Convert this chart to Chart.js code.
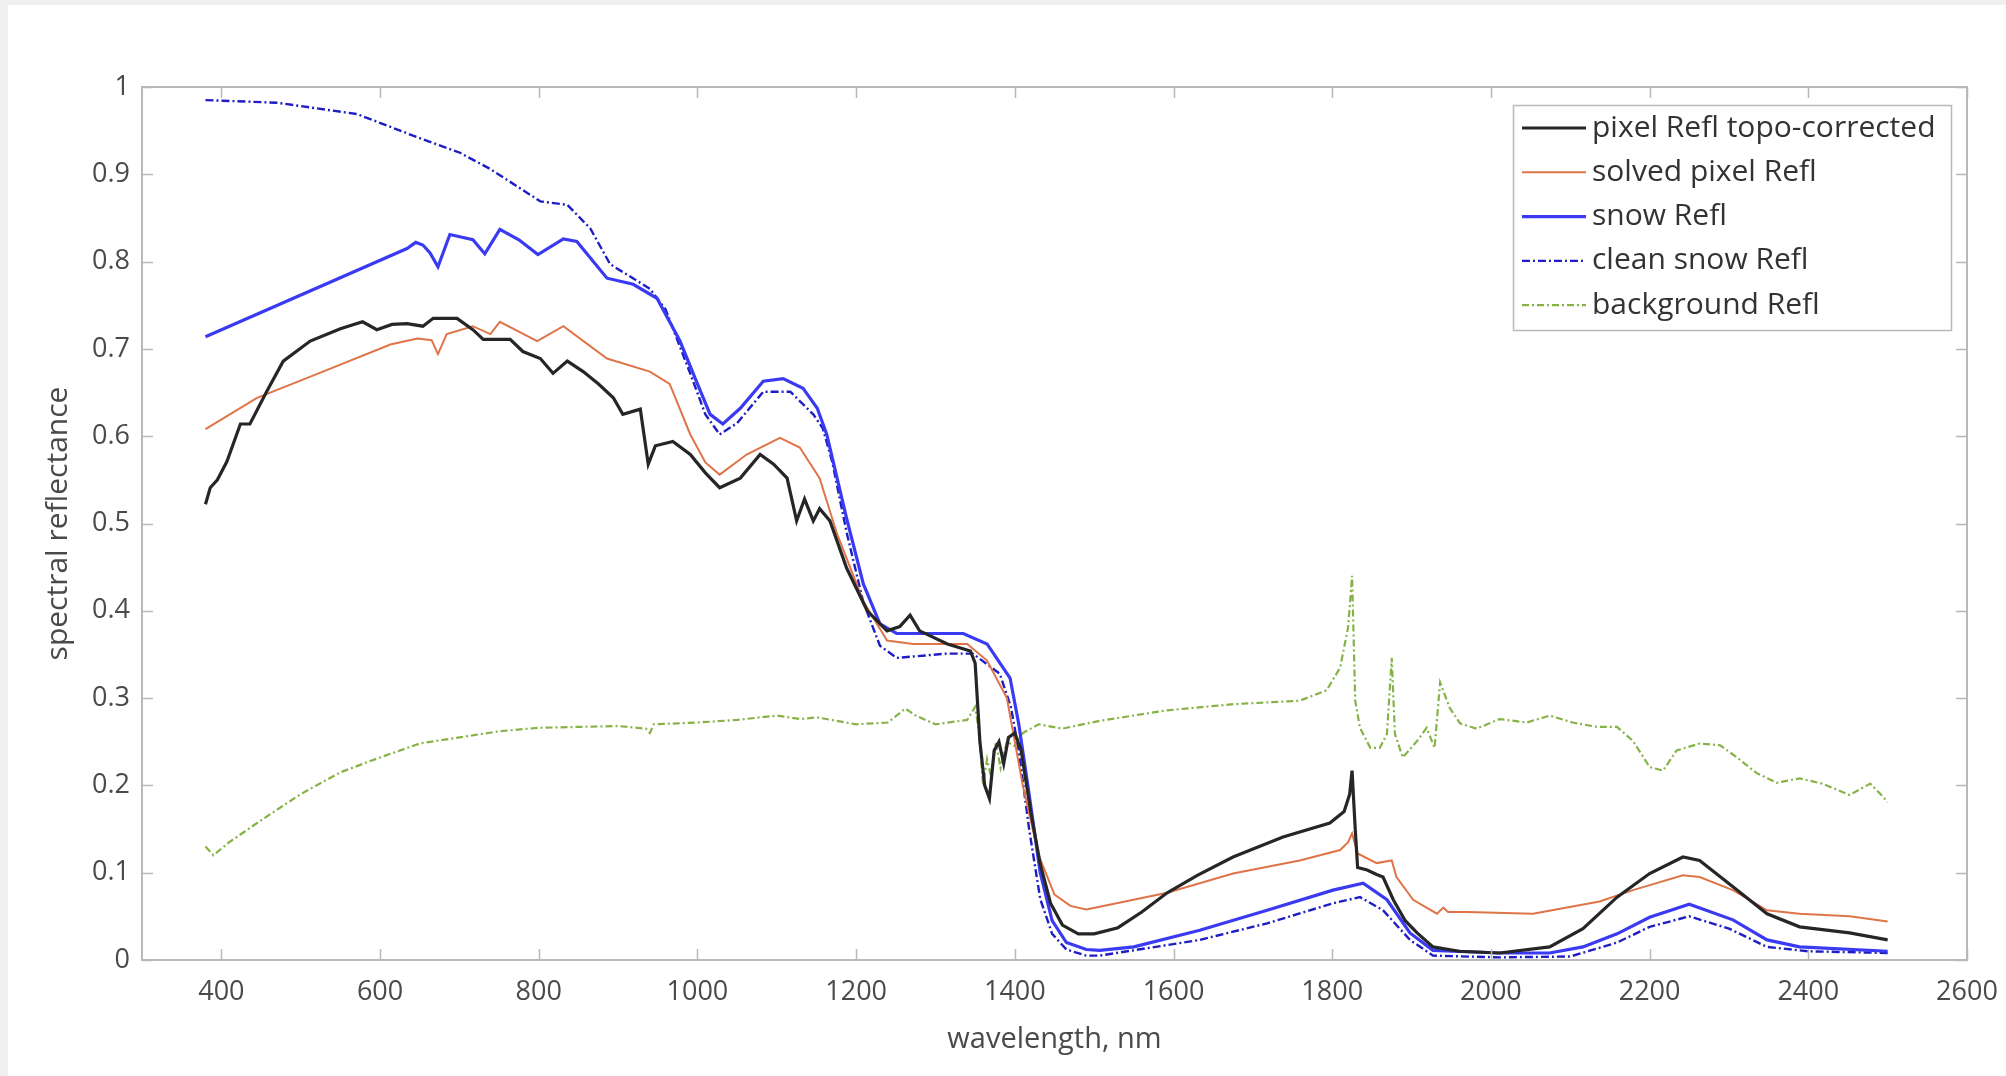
<!DOCTYPE html>
<html>
<head>
<meta charset="utf-8">
<script src="https://cdn.jsdelivr.net/npm/chart.js@4.4.1/dist/chart.umd.min.js"></script>
<style>
  html, body { margin: 0; padding: 0; background: #f0f0f0; }
  #wrap { position: absolute; left: 8px; top: 5px; width: 1998px; height: 1071px; background: #fff; }
</style>
</head>
<body>
<div id="wrap"><canvas id="spectra"></canvas></div>
<script>
// Spectral reflectance of a snow pixel and its endmembers

const xTicks = [400, 600, 800, 1000, 1200, 1400, 1600, 1800, 2000, 2200, 2400, 2600];
const yTicks = [0, 0.1, 0.2, 0.3, 0.4, 0.5, 0.6, 0.7, 0.8, 0.9, 1];

// pixel Refl topo-corrected (black)
const topoWl = [380, 386, 395, 407, 424, 436, 457, 478, 512, 550, 578, 596, 615, 634, 654, 667, 697, 717, 730, 764, 780, 802, 818, 836, 856, 875, 894, 906, 928, 938, 947, 969, 991, 1010, 1028, 1054, 1079, 1096, 1113, 1125, 1135, 1146, 1154, 1167, 1188, 1214, 1239, 1255, 1268, 1280, 1315, 1344, 1350, 1356, 1362, 1368, 1374, 1380, 1386, 1392, 1400, 1408, 1420, 1432, 1445, 1460, 1480, 1500, 1530, 1560, 1592, 1630, 1675, 1738, 1797, 1815, 1822, 1825, 1829, 1832, 1844, 1856, 1864, 1877, 1892, 1907, 1927, 1960, 2011, 2074, 2116, 2159, 2200, 2242, 2263, 2305, 2348, 2389, 2452, 2500];
const topoRefl = [0.522, 0.541, 0.55, 0.571, 0.614, 0.614, 0.651, 0.686, 0.709, 0.723, 0.731, 0.722, 0.728, 0.729, 0.726, 0.735, 0.735, 0.722, 0.711, 0.711, 0.697, 0.689, 0.672, 0.686, 0.674, 0.66, 0.644, 0.625, 0.631, 0.568, 0.589, 0.594, 0.579, 0.558, 0.541, 0.552, 0.579, 0.568, 0.552, 0.503, 0.528, 0.503, 0.517, 0.503, 0.449, 0.40, 0.377, 0.382, 0.395, 0.377, 0.362, 0.354, 0.34, 0.25, 0.2, 0.185, 0.24, 0.25, 0.225, 0.255, 0.26, 0.24, 0.17, 0.11, 0.065, 0.04, 0.03, 0.03, 0.037, 0.055, 0.077, 0.097, 0.118, 0.141, 0.157, 0.17, 0.19, 0.217, 0.15, 0.106, 0.103, 0.098, 0.095, 0.069, 0.045, 0.031, 0.015, 0.01, 0.008, 0.015, 0.036, 0.072, 0.099, 0.118, 0.114, 0.084, 0.053, 0.038, 0.031, 0.023];

// solved pixel Refl (orange)
const solvedWl = [380, 445, 528, 613, 647, 665, 673, 684, 717, 739, 751, 798, 831, 886, 940, 965, 991, 1010, 1028, 1062, 1104, 1129, 1154, 1176, 1209, 1239, 1272, 1340, 1365, 1390, 1410, 1430, 1450, 1470, 1490, 1507, 1592, 1675, 1759, 1810, 1820, 1825, 1832, 1856, 1875, 1881, 1902, 1932, 1940, 1946, 1970, 2053, 2137, 2179, 2242, 2263, 2305, 2348, 2389, 2452, 2500];
const solvedRefl = [0.608, 0.644, 0.674, 0.705, 0.712, 0.71, 0.694, 0.717, 0.726, 0.717, 0.731, 0.709, 0.726, 0.689, 0.674, 0.66, 0.602, 0.57, 0.556, 0.579, 0.598, 0.587, 0.552, 0.488, 0.411, 0.366, 0.362, 0.362, 0.343, 0.30, 0.2, 0.12, 0.075, 0.062, 0.058, 0.061, 0.077, 0.099, 0.114, 0.126, 0.135, 0.145, 0.122, 0.111, 0.114, 0.095, 0.069, 0.053, 0.06, 0.055, 0.055, 0.053, 0.067, 0.08, 0.097, 0.095, 0.08, 0.057, 0.053, 0.05, 0.044];

// snow Refl (blue)
const snowWl = [380, 634, 645, 654, 663, 673, 688, 717, 732, 751, 775, 799, 831, 848, 886, 919, 949, 978, 1000, 1016, 1032, 1054, 1083, 1108, 1133, 1151, 1163, 1188, 1209, 1230, 1251, 1297, 1335, 1365, 1394, 1405, 1418, 1432, 1447, 1465, 1490, 1507, 1550, 1633, 1718, 1801, 1839, 1869, 1898, 1927, 2011, 2074, 2116, 2159, 2200, 2250, 2305, 2348, 2389, 2500];
const snowRefl = [0.714, 0.815, 0.822, 0.819, 0.81, 0.794, 0.831, 0.825, 0.809, 0.837, 0.825, 0.808, 0.826, 0.823, 0.781, 0.774, 0.758, 0.709, 0.66, 0.625, 0.614, 0.632, 0.663, 0.666, 0.655, 0.632, 0.602, 0.506, 0.431, 0.385, 0.374, 0.374, 0.374, 0.362, 0.323, 0.27, 0.19, 0.1, 0.045, 0.02, 0.012, 0.011, 0.015, 0.034, 0.057, 0.08, 0.088, 0.069, 0.031, 0.011, 0.008, 0.008, 0.015, 0.03, 0.049, 0.064, 0.046, 0.023, 0.015, 0.01];

// clean snow Refl (dark blue, dash-dot)
const cleanWl = [380, 470, 571, 654, 700, 739, 802, 836, 865, 890, 940, 960, 990, 1010, 1028, 1050, 1083, 1117, 1146, 1158, 1170, 1188, 1209, 1230, 1251, 1315, 1347, 1381, 1395, 1405, 1418, 1432, 1447, 1465, 1490, 1507, 1633, 1718, 1801, 1835, 1864, 1898, 1927, 2011, 2100, 2159, 2200, 2250, 2300, 2348, 2400, 2500];
const cleanRefl = [0.985, 0.982, 0.969, 0.94, 0.925, 0.906, 0.869, 0.865, 0.838, 0.797, 0.769, 0.745, 0.674, 0.625, 0.602, 0.615, 0.651, 0.651, 0.625, 0.609, 0.57, 0.49, 0.41, 0.36, 0.346, 0.351, 0.351, 0.328, 0.29, 0.24, 0.15, 0.07, 0.03, 0.012, 0.005, 0.005, 0.023, 0.042, 0.065, 0.072, 0.057, 0.023, 0.005, 0.003, 0.004, 0.02, 0.038, 0.05, 0.036, 0.015, 0.01, 0.008];

// background Refl (green, dash-dot)
const bgWl = [380, 390, 410, 450, 500, 550, 600, 650, 700, 750, 800, 850, 900, 935, 940, 945, 1000, 1050, 1100, 1130, 1150, 1200, 1240, 1262, 1275, 1300, 1340, 1350, 1355, 1360, 1365, 1370, 1376, 1382, 1390, 1400, 1410, 1430, 1460, 1507, 1592, 1675, 1759, 1793, 1810, 1820, 1825, 1829, 1835, 1848, 1860, 1869, 1875, 1879, 1889, 1907, 1919, 1929, 1936, 1948, 1961, 1982, 2011, 2045, 2074, 2103, 2134, 2159, 2179, 2200, 2217, 2234, 2263, 2289, 2310, 2335, 2360, 2389, 2418, 2452, 2478, 2490, 2500];
const bgRefl = [0.13, 0.12, 0.135, 0.16, 0.19, 0.215, 0.232, 0.248, 0.255, 0.262, 0.266, 0.267, 0.268, 0.265, 0.26, 0.27, 0.272, 0.275, 0.28, 0.276, 0.278, 0.27, 0.272, 0.288, 0.28, 0.27, 0.275, 0.29, 0.26, 0.2, 0.23, 0.21, 0.25, 0.22, 0.25, 0.245, 0.26, 0.27, 0.265, 0.274, 0.286, 0.293, 0.297, 0.309, 0.335, 0.381, 0.44, 0.297, 0.266, 0.243, 0.243, 0.259, 0.346, 0.259, 0.232, 0.251, 0.266, 0.243, 0.318, 0.289, 0.271, 0.265, 0.276, 0.272, 0.28, 0.272, 0.267, 0.267, 0.251, 0.221, 0.217, 0.24, 0.248, 0.246, 0.232, 0.214, 0.203, 0.208, 0.202, 0.189, 0.202, 0.191, 0.181];

function pts(xs, ys){ return xs.map((x,i)=>({ x: x, y: ys[i] })); }

const axisGrey = '#b9b9b9';
const textGrey = '#4a4a4a';
const FONT = '"Open Sans", "Noto Sans", sans-serif';

// MATLAB style box with inward ticks on all four sides
const boxTicks = {
    id: 'boxTicks',
    afterDatasetsDraw(chart){
        const { ctx, chartArea: a, scales } = chart;
        const len = 11;
        ctx.save();
        ctx.strokeStyle = axisGrey;
        ctx.lineWidth = 2;
        ctx.strokeRect(a.left, a.top, a.right - a.left, a.bottom - a.top);
        ctx.lineWidth = 1.5;
        ctx.beginPath();
        xTicks.forEach(v=>{
            const px = Math.round(scales.x.getPixelForValue(v)) + 0.5;
            ctx.moveTo(px, a.bottom); ctx.lineTo(px, a.bottom - len);
            ctx.moveTo(px, a.top); ctx.lineTo(px, a.top + len);
        });
        yTicks.forEach(v=>{
            const py = Math.round(scales.y.getPixelForValue(v)) + 0.5;
            ctx.moveTo(a.left, py); ctx.lineTo(a.left + len, py);
            ctx.moveTo(a.right, py); ctx.lineTo(a.right - len, py);
        });
        ctx.stroke();
        ctx.restore();
    }
};

// legend box in the upper right corner of the axes
const insideLegend = {
    id: 'insideLegend',
    afterDraw(chart){
        const { ctx, chartArea: a } = chart;
        const sets = chart.data.datasets;
        const boxW = 438, boxH = 225, rowH = 44.3;
        const bx = a.right - 16 - boxW, by = a.top + 18;
        ctx.save();
        ctx.fillStyle = '#fff';
        ctx.fillRect(bx, by, boxW, boxH);
        ctx.strokeStyle = axisGrey;
        ctx.lineWidth = 1.5;
        ctx.strokeRect(bx + 0.5, by + 0.5, boxW, boxH);
        ctx.font = '30px ' + FONT;
        ctx.textBaseline = 'middle';
        sets.forEach((ds, i)=>{
            const cy = by + 23 + i * rowH;
            ctx.beginPath();
            ctx.strokeStyle = ds.borderColor;
            ctx.lineWidth = ds.borderWidth;
            ctx.setLineDash(ds.borderDash || []);
            ctx.moveTo(bx + 9, cy); ctx.lineTo(bx + 73, cy);
            ctx.stroke();
            ctx.setLineDash([]);
            ctx.fillStyle = '#333';
            ctx.fillText(ds.label, bx + 79, cy);
        });
        ctx.restore();
    }
};

function init(){
    const ctx = document.getElementById('spectra');
    new Chart(ctx, {
        type: 'line',
        data: {
            datasets: [
                { label: 'pixel Refl topo-corrected', data: pts(topoWl, topoRefl), borderColor: '#262626', borderWidth: 3.2 },
                { label: 'solved pixel Refl', data: pts(solvedWl, solvedRefl), borderColor: '#df7448', borderWidth: 2 },
                { label: 'snow Refl', data: pts(snowWl, snowRefl), borderColor: '#3a3af2', borderWidth: 3.2 },
                { label: 'clean snow Refl', data: pts(cleanWl, cleanRefl), borderColor: '#1e1ec4', borderWidth: 2.4, borderDash: [8, 3, 2, 3] },
                { label: 'background Refl', data: pts(bgWl, bgRefl), borderColor: '#86b348', borderWidth: 2.2, borderDash: [7, 3, 2, 3] }
            ]
        },
        options: {
            responsive: true,
            maintainAspectRatio: false,
            devicePixelRatio: 1,
            animation: false,
            elements: { point: { radius: 0 }, line: { tension: 0, fill: false } },
            layout: { padding: { left: 0, top: 82, right: 39, bottom: 0 } },
            plugins: { legend: { display: false }, tooltip: { enabled: false } },
            scales: {
                x: {
                    type: 'linear', min: 300, max: 2600,
                    afterBuildTicks: s => { s.ticks = xTicks.map(v => ({ value: v })); },
                    afterFit: s => { s.height = 116; s.paddingLeft = 0; s.paddingRight = 0; },
                    grid: { display: false, drawTicks: false },
                    border: { display: false },
                    ticks: { padding: 16, color: textGrey, font: { family: FONT, size: 27 }, maxRotation: 0, callback: v => String(v) },
                    title: { display: true, text: 'wavelength, nm', color: textGrey, font: { family: FONT, size: 29 }, padding: { top: 4, bottom: 19 } }
                },
                y: {
                    type: 'linear', min: 0, max: 1,
                    afterBuildTicks: s => { s.ticks = yTicks.map(v => ({ value: v })); },
                    afterFit: s => { s.width = 134; s.paddingTop = 0; s.paddingBottom = 0; },
                    grid: { display: false, drawTicks: false },
                    border: { display: false },
                    ticks: { padding: 12, color: textGrey, font: { family: FONT, size: 27 }, callback: v => String(v) },
                    title: { display: true, text: 'spectral reflectance', color: textGrey, font: { family: FONT, size: 30 }, padding: { top: 32, bottom: 0 } }
                }
            }
        },
        plugins: [boxTicks, insideLegend]
    });
}

init();
</script>
</body>
</html>
